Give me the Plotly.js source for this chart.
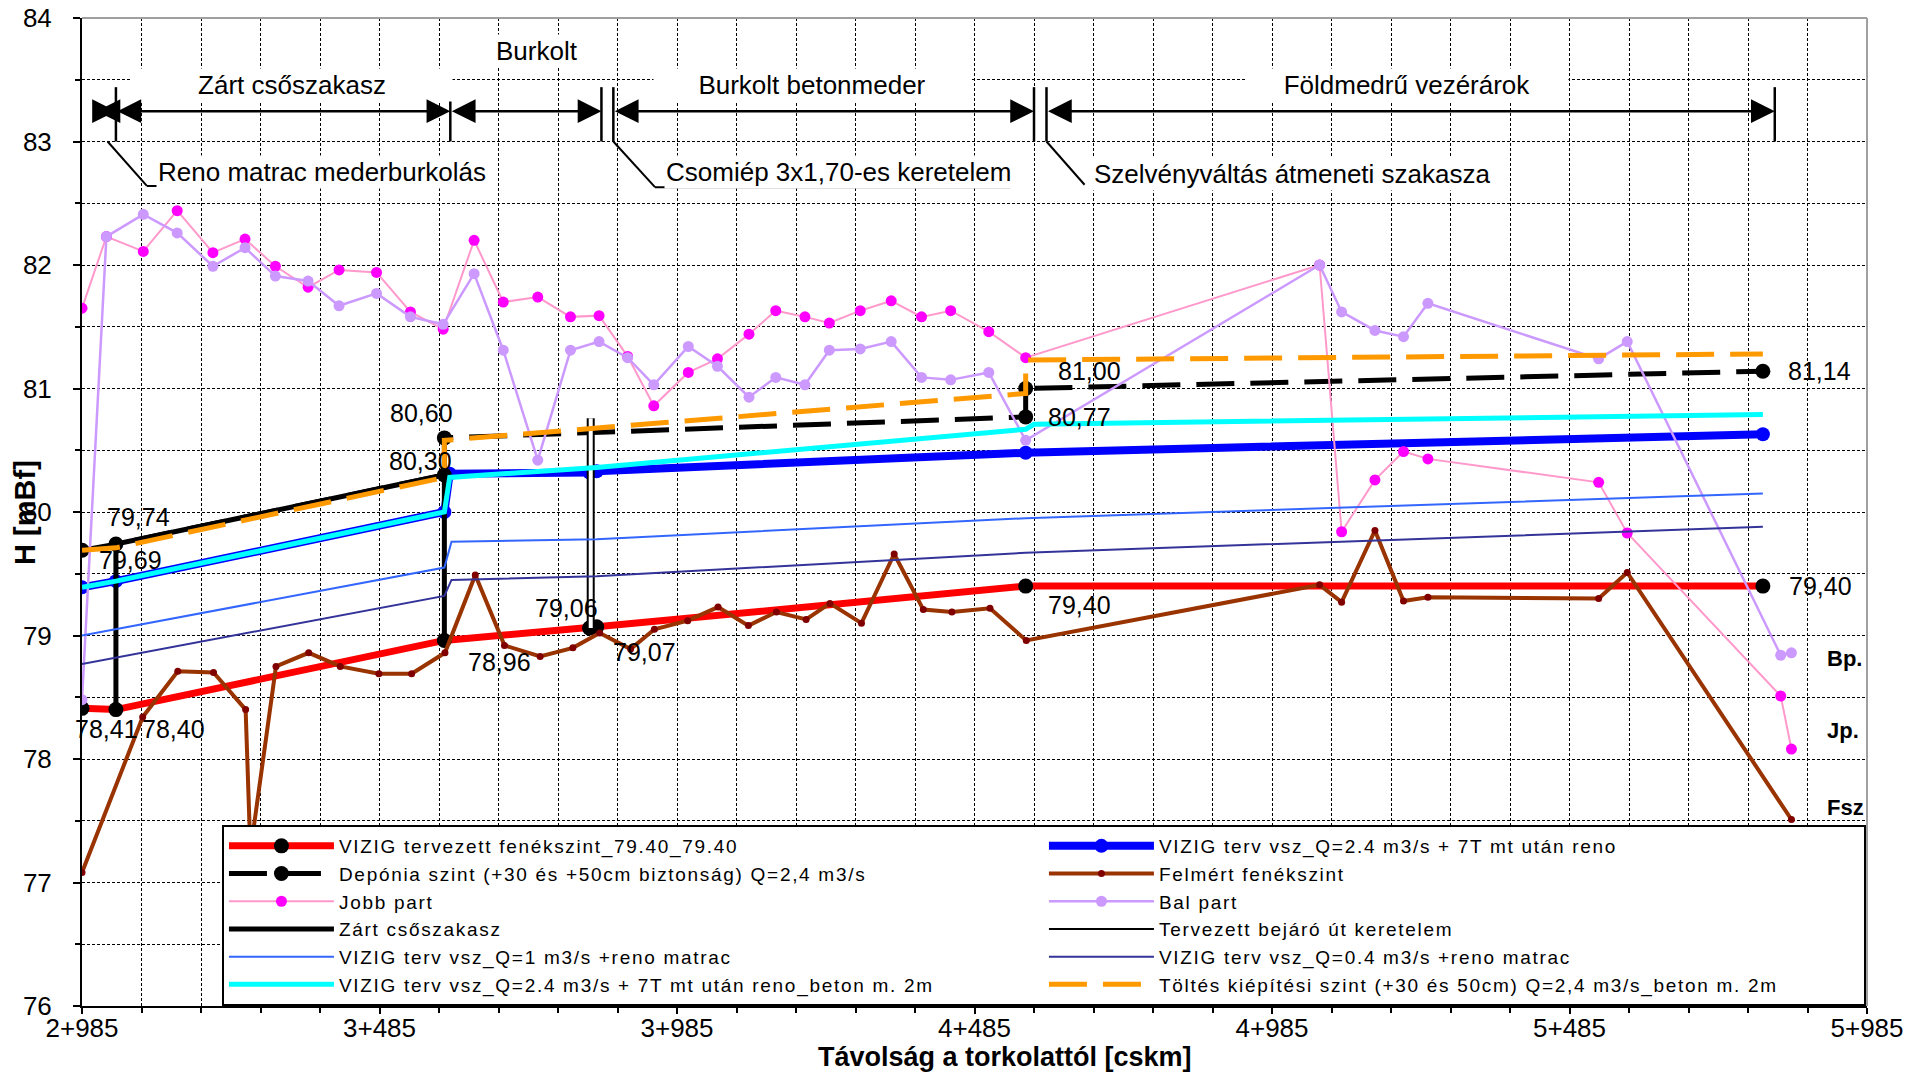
<!DOCTYPE html>
<html><head><meta charset="utf-8">
<script src="https://cdn.plot.ly/plotly-3.0.1.min.js"></script>
<style>
html,body{margin:0;padding:0;background:#fff}
#chart{width:1907px;height:1075px}
#chart .legendtext{letter-spacing:1.7px}
</style>
</head><body><div id="chart"></div>
<script>
// ---------- data ----------
const xTickVals = [2985, 3485, 3985, 4485, 4985, 5485, 5985];
const xTickText = ['2+985', '3+485', '3+985', '4+485', '4+985', '5+485', '5+985'];

const fenekX = [2985, 3042, 3594, 3838, 3850, 4571, 5810];
const fenekY = [78.41, 78.40, 78.96, 79.06, 79.07, 79.40, 79.40];

const vszX = [2985, 3042, 3594, 3603, 3838, 3850, 4571, 5810];
const vszY = [79.39, 79.44, 80.00, 80.31, 80.32, 80.33, 80.48, 80.63];

const deponiaX = [2985, 3042, 3594, 3594, 4571, 4571, 5810];
const deponiaY = [79.69, 79.74, 80.30, 80.60, 80.77, 81.00, 81.14];

const felmertX = [2985, 3087, 3146, 3206, 3260, 3268, 3311, 3366, 3419, 3484, 3539, 3595, 3646, 3695, 3755, 3810, 3855, 3907, 3947, 4003, 4054, 4105, 4152, 4202, 4242, 4295, 4350, 4399, 4447, 4511, 4572, 5065, 5102, 5158, 5206, 5247, 5534, 5582, 5858];
const felmertY = [77.08, 78.34, 78.71, 78.70, 78.40, 77.25, 78.75, 78.86, 78.75, 78.69, 78.69, 78.86, 79.49, 78.92, 78.83, 78.90, 79.02, 78.89, 79.05, 79.12, 79.23, 79.08, 79.19, 79.13, 79.26, 79.10, 79.66, 79.21, 79.19, 79.22, 78.96, 79.41, 79.27, 79.85, 79.28, 79.31, 79.30, 79.51, 77.51];

const partX = [2985, 3026, 3088, 3145, 3205, 3259, 3310, 3365, 3417, 3480, 3537, 3592, 3644, 3693, 3751, 3806, 3854, 3902, 3946, 4004, 4053, 4106, 4151, 4200, 4241, 4293, 4345, 4396, 4445, 4509, 4571, 5065, 5102, 5158, 5206, 5247, 5534, 5582, 5840, 5858];
const jobbY = [81.65, 82.23, 82.11, 82.44, 82.10, 82.21, 81.99, 81.82, 81.96, 81.94, 81.62, 81.48, 82.20, 81.70, 81.74, 81.58, 81.59, 81.26, 80.86, 81.13, 81.24, 81.44, 81.63, 81.58, 81.53, 81.63, 81.71, 81.58, 81.63, 81.46, 81.25, 82.00, 79.84, 80.26, 80.49, 80.43, 80.24, 79.83, 78.51, 78.08];
const balY = [78.48, 82.23, 82.41, 82.26, 81.99, 82.14, 81.91, 81.87, 81.67, 81.77, 81.58, 81.52, 81.93, 81.31, 80.42, 81.31, 81.38, 81.25, 81.03, 81.34, 81.18, 80.93, 81.09, 81.03, 81.31, 81.32, 81.38, 81.09, 81.07, 81.13, 80.58, 82.00, 81.62, 81.47, 81.42, 81.69, 81.24, 81.38, 78.84, 78.86];

const zartX = [3042, 3042, 3594, 3594];
const zartY = [78.40, 79.74, 80.30, 78.96];

const bejaroX = [3840, 3840];
const bejaroY = [79.06, 80.76];

const qLowX = [2985, 3594, 3606, 3850, 4571, 5810];
const q1Y = [79.00, 79.55, 79.76, 79.78, 79.95, 80.15];
const q04Y = [78.77, 79.32, 79.45, 79.48, 79.67, 79.88];

const betonX = [2985, 3042, 3594, 3603, 3850, 4571, 4585, 5810];
const betonY = [79.39, 79.44, 80.00, 80.28, 80.36, 80.67, 80.71, 80.79];

const toltesX = [2985, 3042, 3594, 3594, 4571, 4571, 5810];
const toltesY = [79.69, 79.71, 80.28, 80.58, 80.96, 81.23, 81.28];

// section boundaries of the dimension line (chainage)
const sectionBounds = [3007, 3042, 3604, 3858, 3878, 4585, 4606, 5830];
const sectionTicks = [3042, 3604, 3858, 3878, 4585, 4606, 5830];

const seriesNames = [
  'VIZIG tervezett fenékszint_79.40_79.40',
  'VIZIG terv vsz_Q=2.4 m3/s + 7T mt után reno',
  'Depónia szint (+30 és +50cm biztonság) Q=2,4 m3/s',
  'Felmért fenékszint',
  'Jobb part',
  'Bal part',
  'Zárt csőszakasz',
  'Tervezett bejáró út keretelem',
  'VIZIG terv vsz_Q=1 m3/s +reno matrac',
  'VIZIG terv vsz_Q=0.4 m3/s +reno matrac',
  'VIZIG terv vsz_Q=2.4 m3/s + 7T mt után reno_beton m. 2m',
  'Töltés kiépítési szint (+30 és 50cm) Q=2,4 m3/s_beton m. 2m'
];

// ---------- styling / layout ----------
const FONT = 'Liberation Sans, Arial, sans-serif';

const traces = [
  {x: fenekX, y: fenekY, name: seriesNames[0], mode: 'lines+markers',
   line: {color: '#FF0000', width: 7}, marker: {color: '#000', size: 15}},
  {x: vszX, y: vszY, name: seriesNames[1], mode: 'lines+markers',
   line: {color: '#0000FF', width: 8}, marker: {color: '#0000FF', size: 14}},
  {x: deponiaX, y: deponiaY, name: seriesNames[2], mode: 'lines+markers',
   line: {color: '#000', width: 5, dash: '38px,16px'}, marker: {color: '#000', size: 15}},
  {x: felmertX, y: felmertY, name: seriesNames[3], mode: 'lines+markers',
   line: {color: '#993300', width: 4}, marker: {color: '#800000', size: 7}},
  {x: partX, y: jobbY, name: seriesNames[4], mode: 'lines+markers',
   line: {color: '#FF99CC', width: 2}, marker: {color: '#FF00FF', size: 11}},
  {x: partX, y: balY, name: seriesNames[5], mode: 'lines+markers',
   line: {color: '#CC99FF', width: 2.5}, marker: {color: '#CC99FF', size: 11}},
  {x: zartX, y: zartY, name: seriesNames[6], mode: 'lines',
   line: {color: '#000', width: 5}},
  {x: bejaroX, y: bejaroY, name: seriesNames[7], mode: 'lines',
   line: {color: '#000', width: 2}},
  {x: bejaroX, y: bejaroY, name: seriesNames[7], mode: 'lines', showlegend: false,
   line: {color: '#000', width: 8}},
  {x: bejaroX, y: bejaroY, name: seriesNames[7], mode: 'lines', showlegend: false,
   line: {color: '#fff', width: 4}},
  {x: qLowX, y: q1Y, name: seriesNames[8], mode: 'lines',
   line: {color: '#3366FF', width: 2}},
  {x: qLowX, y: q04Y, name: seriesNames[9], mode: 'lines',
   line: {color: '#333399', width: 2}},
  {x: betonX, y: betonY, name: seriesNames[10], mode: 'lines',
   line: {color: '#00FFFF', width: 5}},
  {x: toltesX, y: toltesY, name: seriesNames[11], mode: 'lines',
   line: {color: '#FF9900', width: 5, dash: '38px,16px'}}
].map(t => Object.assign({type: 'scatter', hoverinfo: 'skip'}, t));

const fmt = v => v.toFixed(2).replace('.', ',');
// [x array, y array, index, xshift, yshift]
const labelDefs = [
  [fenekX, fenekY, 0, 24, -21], [fenekX, fenekY, 1, 58, -19], [fenekX, fenekY, 2, 55, -22],
  [fenekX, fenekY, 3, -23, 20], [fenekX, fenekY, 4, 48, -25], [fenekX, fenekY, 5, 54, -19],
  [fenekX, fenekY, 6, 58, 0],
  [deponiaX, deponiaY, 0, 48, -10], [deponiaX, deponiaY, 1, 23, 27], [deponiaX, deponiaY, 2, -24, 14],
  [deponiaX, deponiaY, 3, -23, 25], [deponiaX, deponiaY, 4, 54, 0], [deponiaX, deponiaY, 5, 64, 18],
  [deponiaX, deponiaY, 6, 57, 0]
];

const annotations = labelDefs.map(d => ({
  x: d[0][d[2]], y: d[1][d[2]], text: fmt(d[1][d[2]]), showarrow: false,
  xshift: d[3], yshift: d[4], xanchor: 'center', yanchor: 'middle',
  font: {family: FONT, size: 25, color: '#000'}
}));

// section texts (positions are layout)
const secTexts = [
  {text: 'Zárt csőszakasz', x: 3338, y: 83.46, width: 318},
  {text: 'Burkolt', x: 3749, y: 83.73},
  {text: 'Burkolt betonmeder', x: 4212, y: 83.46, width: 314},
  {text: 'Földmedrű vezérárok', x: 5212, y: 83.46, width: 320},
  {text: 'Reno matrac mederburkolás', x: 3389, y: 82.75},
  {text: 'Csomiép 3x1,70-es keretelem', x: 4256, y: 82.75},
  {text: 'Szelvényváltás átmeneti szakasza', x: 5020, y: 82.74}
];
secTexts.forEach(s => annotations.push(Object.assign({
  showarrow: false, xanchor: 'center', yanchor: 'middle', bgcolor: '#fff',
  font: {family: FONT, size: 26, color: '#000'}
}, s)));

// bank labels
[['Bp.', 78.81], ['Jp.', 78.23], ['Fsz', 77.61]].forEach(b => annotations.push({
  x: 5914, y: b[1], text: '<b>' + b[0] + '</b>', showarrow: false, xanchor: 'left', yanchor: 'middle',
  font: {family: FONT, size: 22, color: '#000'}
}));

// axis titles (placed where the original has them)
annotations.push({
  xref: 'paper', yref: 'paper', x: -0.032, y: 0.5, xanchor: 'center', yanchor: 'middle',
  text: '<b>H [mBf]</b>', textangle: -90, showarrow: false,
  font: {family: FONT, size: 29, color: '#000'}
});
annotations.push({
  xref: 'paper', yref: 'paper', x: 0.517, y: -0.0516, xanchor: 'center', yanchor: 'middle',
  text: '<b>Távolság a torkolattól [cskm]</b>', showarrow: false,
  font: {family: FONT, size: 27, color: '#000'}
});

// dimension arrows
const DIM_Y = 83.245;
for (let i = 0; i < sectionBounds.length - 1; i++) {
  annotations.push({
    x: sectionBounds[i + 1], y: DIM_Y, ax: sectionBounds[i], ay: DIM_Y, axref: 'x', ayref: 'y',
    text: '', showarrow: true, arrowside: 'end+start', arrowhead: 2, startarrowhead: 2,
    arrowsize: 1.9, startarrowsize: 1.9, arrowwidth: 2.5, arrowcolor: '#000', standoff: 0, startstandoff: 0
  });
}

const shapes = [
  {type: 'line', xref: 'paper', yref: 'paper', x0: 0, x1: 1, y0: 1, y1: 1, line: {color: '#A0A0A0', width: 2}},
  {type: 'line', xref: 'paper', yref: 'paper', x0: 1, x1: 1, y0: 0, y1: 1, line: {color: '#A0A0A0', width: 2}}
];
sectionTicks.forEach(c => shapes.push({type: 'line', x0: c, x1: c, y0: 83.0, y1: 83.44, line: {color: '#000', width: 2.5}}));
// leader lines and underlines
[[3028, 83.0, 3094, 82.64], [3094, 82.64, 3660, 82.64],
 [3878, 83.0, 3948, 82.63], [3948, 82.63, 4545, 82.63],
 [4606, 83.0, 4670, 82.65]].forEach(l => shapes.push({
  type: 'line', x0: l[0], y0: l[1], x1: l[2], y1: l[3], line: {color: '#000', width: 2}
}));

const gridDash = '3px,2px';
const layout = {
  width: 1907, height: 1075,
  margin: {l: 82, r: 40, t: 18, b: 69},
  paper_bgcolor: '#fff', plot_bgcolor: '#fff',
  font: {family: FONT, color: '#000'},
  showlegend: true,
  xaxis: {
    range: [2985, 5985], tickmode: 'array', tickvals: xTickVals, ticktext: xTickText,
    showgrid: true, gridcolor: '#000', gridwidth: 1, griddash: gridDash,
    showline: true, linecolor: '#000', linewidth: 2, zeroline: false,
    ticks: 'outside', ticklen: 6, tickcolor: '#000', tickwidth: 1.5, ticklabelstandoff: -8,
    tickfont: {size: 26, family: FONT},
    minor: {tick0: 2985, dtick: 100, showgrid: true, gridcolor: '#000', gridwidth: 1, griddash: gridDash,
            ticks: 'outside', ticklen: 5, tickcolor: '#000'}
  },
  yaxis: {
    range: [76, 84], tickmode: 'linear', tick0: 76, dtick: 1,
    showgrid: true, gridcolor: '#000', gridwidth: 1, griddash: gridDash,
    showline: true, linecolor: '#000', linewidth: 2, zeroline: false,
    ticks: 'outside', ticklen: 7, tickcolor: '#000', tickwidth: 1.5, ticklabelstandoff: 16,
    tickfont: {size: 26, family: FONT},
    minor: {tick0: 76, dtick: 0.5, showgrid: true, gridcolor: '#000', gridwidth: 1, griddash: gridDash,
            ticks: 'outside', ticklen: 5, tickcolor: '#000'}
  },
  legend: {
    orientation: 'h', x: 0.0784, xanchor: 'left', y: 0, yanchor: 'bottom',
    bgcolor: '#fff', bordercolor: '#000', borderwidth: 2,
    font: {size: 19, family: FONT, color: '#000'},
    itemwidth: 105, entrywidth: 700, entrywidthmode: 'pixels', traceorder: 'normal', itemclick: false
  },
  annotations: annotations,
  shapes: shapes
};

Plotly.newPlot('chart', traces, layout, {displayModeBar: false, responsive: false});
</script>
</body></html>
